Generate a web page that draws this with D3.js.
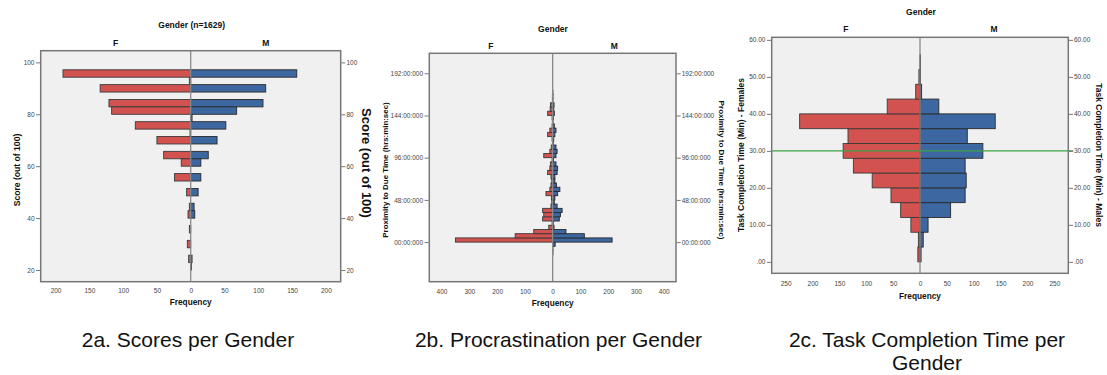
<!DOCTYPE html>
<html>
<head>
<meta charset="utf-8">
<script src="https://cdn.jsdelivr.net/npm/d3@7"></script>
<style>
  body { margin: 0; background: #fff; }
  svg text { font-family: "Liberation Sans", Arial, sans-serif; }
</style>
</head>
<body>
<svg id="chart" width="1107" height="375"></svg>
<script>
// ---- 2a: scores (bins of 100/35 points), lower edge of each bin
const scoreBinWidth = 2.857;
const scoreBins   = [94.29, 91.43, 88.57, 82.86, 80.00, 77.14, 74.29, 71.43, 68.57, 62.86, 60.00, 54.29, 48.57, 42.86, 40.00, 34.29, 28.57, 22.86, 20.00];
const scoreFemale = [189,   2,     134,   121,   117,   0,     82,    1,     50,    40,    14,    24,    6,     2,     4,     2,     5,     3,     0];
const scoreMale   = [157,   0,     111,   107,   68,    2,     52,    0,     39,    26,    15,    15,    11,    5,     6,     0,     0,     2,     1];
const scoreTicks  = [20, 40, 60, 80, 100];

// ---- 2b: proximity to due time in hours (bins of 4.8 h), lower edge of each bin
const procBinWidth = 4.8;
const procBins   = [-14.4, -9.6, -4.8, 0, 4.8, 9.6, 14.4, 19.2, 24, 28.8, 33.6, 38.4, 43.2, 48, 52.8, 57.6, 62.4, 67.2, 72, 76.8, 81.6, 86.4, 91.2, 96, 100.8, 105.6, 110.4, 115.2, 120, 124.8, 129.6, 134.4, 139.2, 144, 148.8, 153.6, 158.4, 163.2, 168];
const procFemale = [0, 0, 0, 350, 135, 68, 14, 2, 36, 32, 36, 6, 3, 4, 24, 10, 6, 3, 6, 18, 10, 8, 2, 32, 10, 5, 1, 2, 18, 10, 2, 1, 2, 18, 9, 8, 1, 1, 0];
const procMale   = [1, 1, 9, 214, 114, 48, 5, 2, 24, 28, 34, 16, 6, 8, 18, 26, 14, 8, 8, 16, 18, 12, 3, 12, 16, 12, 2, 4, 8, 12, 6, 1, 2, 6, 4, 5, 1, 1, 1];
const procTicks  = [0, 48, 96, 144, 192];
const procTickLabels = ["00:00:000", "48:00:000", "96:00:000", "144:00:000", "192:00:000"];

// ---- 2c: task completion time in minutes (bins of 4 min), lower edge of each bin
const taskBinWidth = 4;
const taskBins   = [0, 4, 8, 12, 16, 20, 24, 28, 32, 36, 40, 44, 48, 52];
const taskFemale = [4, 3, 17, 36, 54, 89, 124, 143, 134, 224, 61, 8, 2, 0];
const taskMale   = [2, 6, 15, 57, 84, 86, 84, 117, 88, 140, 35, 3, 1, 1];
const taskTicks  = [0, 10, 20, 30, 40, 50, 60];
const taskTickLabels = [".00", "10.00", "20.00", "30.00", "40.00", "50.00", "60.00"];

const femaleColor = "#d2524f", maleColor = "#3d67a0";
const svg = d3.select("#chart");
svg.append("rect").attr("width", 1107).attr("height", 375).attr("fill", "#fff");

function drawPyramid(p) {
  const g = svg.append("g");
  const x = d3.scaleLinear().domain([-p.xMax, p.xMax]).range([p.left, p.right]);
  const y = d3.scaleLinear().domain(p.yDomain).range([p.bottom, p.top]);

  g.append("rect")
    .attr("x", p.left).attr("y", p.top)
    .attr("width", p.right - p.left).attr("height", p.bottom - p.top)
    .attr("fill", "#f0f0f0");

  const rows = p.bins.map((b, i) => ({lo: b, hi: b + p.binWidth, f: p.female[i], m: p.male[i]}));

  g.append("g").selectAll("rect").data(rows.filter(d => d.f > 0)).join("rect")
    .attr("x", d => x(-d.f)).attr("y", d => y(d.hi))
    .attr("width", d => x(0) - x(-d.f)).attr("height", d => y(d.lo) - y(d.hi))
    .attr("fill", femaleColor).attr("stroke", "#3a3a3a").attr("stroke-width", 0.9);

  g.append("g").selectAll("rect").data(rows.filter(d => d.m > 0)).join("rect")
    .attr("x", x(0)).attr("y", d => y(d.hi))
    .attr("width", d => x(d.m) - x(0)).attr("height", d => y(d.lo) - y(d.hi))
    .attr("fill", maleColor).attr("stroke", "#2a2a2a").attr("stroke-width", 0.9);

  // centre line
  g.append("line")
    .attr("x1", x(0)).attr("x2", x(0)).attr("y1", p.top).attr("y2", p.bottom)
    .attr("stroke", "#8a8a8a").attr("stroke-width", 1.3);

  if (p.refLine !== undefined) {
    g.append("line")
      .attr("x1", p.left).attr("x2", p.right + 5)
      .attr("y1", y(p.refLine)).attr("y2", y(p.refLine))
      .attr("stroke", "#3aa346").attr("stroke-width", 1.3);
  }

  // frame
  g.append("rect")
    .attr("x", p.left).attr("y", p.top)
    .attr("width", p.right - p.left).attr("height", p.bottom - p.top)
    .attr("fill", "none").attr("stroke", "#777").attr("stroke-width", 1.5);

  const fmt = v => p.yLabels ? p.yLabels[p.yTicks.indexOf(v)] : v;
  const styleAxis = a => {
    a.select(".domain").remove();
    a.selectAll(".tick line").attr("stroke", "#777");
    a.selectAll(".tick text").style("fill", "#444").style("font-size", "6.5px");
  };

  g.append("g").attr("transform", `translate(${p.left - 0.7},0)`)
    .call(d3.axisLeft(y).tickValues(p.yTicks).tickFormat(fmt).tickSize(4).tickPadding(1.5))
    .call(styleAxis);
  g.append("g").attr("transform", `translate(${p.right + 0.7},0)`)
    .call(d3.axisRight(y).tickValues(p.yTicks).tickFormat(fmt).tickSize(4).tickPadding(1))
    .call(styleAxis);
  g.append("g").attr("transform", `translate(0,${p.bottom + 0.7})`)
    .call(d3.axisBottom(x).tickValues(p.xTicks).tickFormat(d => Math.abs(d)).tickSize(0).tickPadding(p.xPad))
    .call(styleAxis);

  const bold = (t, tx, ty, size, rot) => {
    const el = g.append("text").text(t)
      .attr("text-anchor", "middle").attr("font-weight", "bold")
      .style("font-size", size + "px").attr("fill", "#111");
    if (rot) el.attr("transform", `translate(${tx},${ty}) rotate(${rot})`);
    else el.attr("x", tx).attr("y", ty);
  };

  bold(p.groupTitle, p.titleX, p.titleY, 8.5);
  bold("F", x(-p.xMax / 2), p.fmY, 8.5);
  bold("M", x(p.xMax / 2), p.fmY, 8.5);
  bold("Frequency", x(0), p.freqY, 8.3);
  bold(p.leftTitle, p.leftTitleX, p.leftTitleY, p.leftTitleSize, -90);
  bold(p.rightTitle, p.rightTitleX, p.rightTitleY, p.rightTitleSize, 90);

  p.caption.forEach((line, i) => {
    g.append("text").text(line)
      .attr("x", p.captionX).attr("y", 347 + i * 23)
      .attr("text-anchor", "middle").style("font-size", "21px").attr("fill", "#111");
  });
}

drawPyramid({
  left: 40.7, right: 340.7, top: 50.7, bottom: 281.7,
  xMax: 222, xTicks: [-200, -150, -100, -50, 0, 50, 100, 150, 200], xPad: 6,
  yDomain: [15.5, 104.5], yTicks: scoreTicks,
  bins: scoreBins, binWidth: scoreBinWidth, female: scoreFemale, male: scoreMale,
  groupTitle: "Gender (n=1629)", titleX: 191.7, titleY: 28, fmY: 46, freqY: 305,
  leftTitle: "Score (out of 100)", leftTitleX: 19.7, leftTitleY: 170, leftTitleSize: 8.6,
  rightTitle: "Score (out of 100)", rightTitleX: 361.5, rightTitleY: 163, rightTitleSize: 13,
  caption: ["2a. Scores per Gender"], captionX: 188
});

drawPyramid({
  left: 429.3, right: 676, top: 53.3, bottom: 281.7,
  xMax: 444, xTicks: [-400, -300, -200, -100, 0, 100, 200, 300, 400], xPad: 7,
  yDomain: [-45, 214.7], yTicks: procTicks, yLabels: procTickLabels,
  bins: procBins, binWidth: procBinWidth, female: procFemale, male: procMale,
  groupTitle: "Gender", titleX: 553, titleY: 31.5, fmY: 49, freqY: 306,
  leftTitle: "Proximity to Due Time (hrs:min:sec)", leftTitleX: 388, leftTitleY: 170, leftTitleSize: 7.9,
  rightTitle: "Proximity to Due Time (hrs:min:sec)", rightTitleX: 719, rightTitleY: 170, rightTitleSize: 8.1,
  caption: ["2b. Procrastination per Gender"], captionX: 558.5
});

drawPyramid({
  left: 771.7, right: 1068.3, top: 37.3, bottom: 273.3,
  xMax: 276, xTicks: [-250, -200, -150, -100, -50, 0, 50, 100, 150, 200, 250], xPad: 7,
  yDomain: [-3.1, 60.7], yTicks: taskTicks, yLabels: taskTickLabels,
  bins: taskBins, binWidth: taskBinWidth, female: taskFemale, male: taskMale, refLine: 30,
  groupTitle: "Gender", titleX: 921, titleY: 15, fmY: 32, freqY: 299,
  leftTitle: "Task Completion Time (Min) - Females", leftTitleX: 743.7, leftTitleY: 155, leftTitleSize: 8.5,
  rightTitle: "Task Completion Time (Min) - Males", rightTitleX: 1096, rightTitleY: 155, rightTitleSize: 8.5,
  caption: ["2c. Task Completion Time per", "Gender"], captionX: 927
});
</script>
</body>
</html>
